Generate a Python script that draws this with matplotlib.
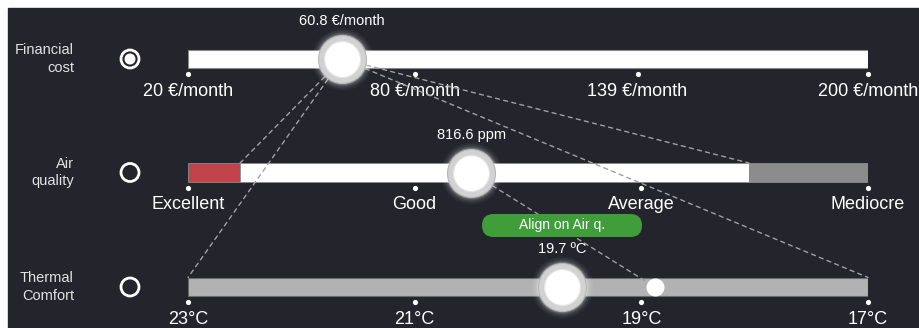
import matplotlib
matplotlib.use('Agg')
import matplotlib.pyplot as plt
from matplotlib.patches import Rectangle, Circle, FancyBboxPatch, ConnectionPatch

plt.rcParams['font.family'] = ['Liberation Sans', 'DejaVu Sans']

# data
row_names = ['Financial\ncost', 'Air\nquality', 'Thermal\nComfort']
selected_row = 0

cost_range = (20, 200)
cost_ticks = [20, 80, 139, 200]
cost_labels = ['20 €/month', '80 €/month', '139 €/month', '200 €/month']
cost_value = 60.8
cost_text = '60.8 €/month'

air_labels = ['Excellent', 'Good', 'Average', 'Mediocre']
air_ticks = [0, 1, 2, 3]
air_segments = [(0, 0.23, '#c1434a'), (0.23, 2.475, 'white'), (2.475, 3, '#8c8c8c')]
air_value = 1.25
air_text = '816.6 ppm'

temp_range = (23, 17)
temp_ticks = [23, 21, 19, 17]
temp_labels = ['23°C', '21°C', '19°C', '17°C']
temp_value = 19.7
temp_text = '19.7 ºC'
temp_target = 18.88

BG = '#24242c'
W, H = 919, 328
BAR_L, BAR_R = 188, 868
row_y = [59, 172.5, 287]


def ms(r):
    # marker size (pt^2) from a radius in pixels at dpi 100
    return (2 * r * 0.72) ** 2


fig = plt.figure(figsize=(W / 100, H / 100), dpi=100, facecolor='white')

# background / layout axes in pixel units
bg = fig.add_axes([0, 0, 1, 1], zorder=0)
bg.set_xlim(0, W)
bg.set_ylim(H, 0)
bg.axis('off')
bg.add_patch(Rectangle((8, 8), W - 8, H - 8, color=BG))

for i, (name, y) in enumerate(zip(row_names, row_y)):
    bg.text(74, y, name, ha='right', va='center', multialignment='right',
            color='#e2e2e2', fontsize=10.5, linespacing=1.3)
    bg.add_patch(Circle((130, y), 9, fill=False, ec='white', lw=2))
    if i == selected_row:
        bg.add_patch(Circle((130, y), 4.8, color='white'))


def slider_axes(yc, xlim):
    pos = [BAR_L / W, (H - yc - 45) / H, (BAR_R - BAR_L) / W, 90 / H]
    ax = fig.add_axes(pos, zorder=1)
    top = fig.add_axes(pos, zorder=3, sharex=ax, sharey=ax)
    for a in (ax, top):
        a.set_xlim(*xlim)
        a.set_ylim(45, -45)
        a.axis('off')
        a.patch.set_alpha(0)
    return ax, top


def draw_ticks(ax, ticks, labels):
    ax.scatter(ticks, [15] * len(ticks), s=ms(2.6), color='white', zorder=3,
               clip_on=False, linewidths=0)
    for t, lab in zip(ticks, labels):
        ax.text(t, 32, lab, ha='center', va='center', color='white',
                fontsize=13, clip_on=False)


def draw_knob(top, x, text):
    for r, a in [(31, 0.04), (29, 0.07), (27, 0.12), (25.5, 0.2)]:
        top.scatter([x], [0], s=ms(r), color='white', alpha=a, linewidths=0,
                    clip_on=False)
    top.scatter([x], [0], s=ms(24), color='#d2d2d2', edgecolors='#b8b8b8',
                linewidths=0.8, clip_on=False)
    top.scatter([x], [0], s=ms(18), color='white', edgecolors='#e4e4e4',
                linewidths=0.8, clip_on=False)
    top.text(x, -38, text, ha='center', va='center', color='white',
             fontsize=10.5, clip_on=False)


# financial cost
ax_fin, top_fin = slider_axes(row_y[0], cost_range)
ax_fin.barh(0, cost_range[1] - cost_range[0], left=cost_range[0], height=18,
            color='white', edgecolor='#8a8a8a', linewidth=0.8)
draw_ticks(ax_fin, cost_ticks, cost_labels)
draw_knob(top_fin, cost_value, cost_text)

# air quality
ax_air, top_air = slider_axes(row_y[1], (air_ticks[0], air_ticks[-1]))
for lo, hi, c in air_segments:
    ax_air.barh(0, hi - lo, left=lo, height=19, color=c,
                edgecolor='#8a8a8a', linewidth=0.6)
draw_ticks(ax_air, air_ticks, air_labels)
draw_knob(top_air, air_value, air_text)

# thermal comfort
ax_tmp, top_tmp = slider_axes(row_y[2], temp_range)
ax_tmp.barh(0, temp_range[0] - temp_range[1], left=temp_range[1], height=18,
            color='#b2b2b2', edgecolor='#6a6a6a', linewidth=0.8)
draw_ticks(ax_tmp, temp_ticks, temp_labels)
top_tmp.scatter([temp_target], [0], s=ms(9), color='white', linewidths=0,
                clip_on=False)
draw_knob(top_tmp, temp_value, temp_text)

# dashed projection lines
links = [
    (ax_fin, cost_value, ax_air, air_segments[1][0]),
    (ax_fin, cost_value, ax_air, air_segments[1][1]),
    (ax_fin, cost_value, ax_tmp, temp_range[0]),
    (ax_fin, cost_value, ax_tmp, temp_range[1]),
    (ax_air, air_value, ax_tmp, temp_target),
]
for a1, x1, a2, x2 in links:
    y2 = 0 if x2 == temp_target else -9.5
    cp = ConnectionPatch((x1, 0), (x2, y2), coordsA=a1.transData,
                         coordsB=a2.transData, color='#a0a0a0', lw=1,
                         linestyle=(0, (3, 3)), zorder=2)
    fig.add_artist(cp)

# align button
fg = fig.add_axes([0, 0, 1, 1], zorder=2.5)
fg.set_xlim(0, W)
fg.set_ylim(H, 0)
fg.axis('off')
fg.patch.set_alpha(0)
fg.add_patch(FancyBboxPatch((482, 214), 160, 23,
                            boxstyle='round,pad=0,rounding_size=11.5',
                            color='#3f9e3a', lw=0))
fg.text(562, 225.5, 'Align on Air q.', ha='center', va='center',
        color='white', fontsize=10)

fig.savefig('out.png', dpi=100, facecolor='white')
